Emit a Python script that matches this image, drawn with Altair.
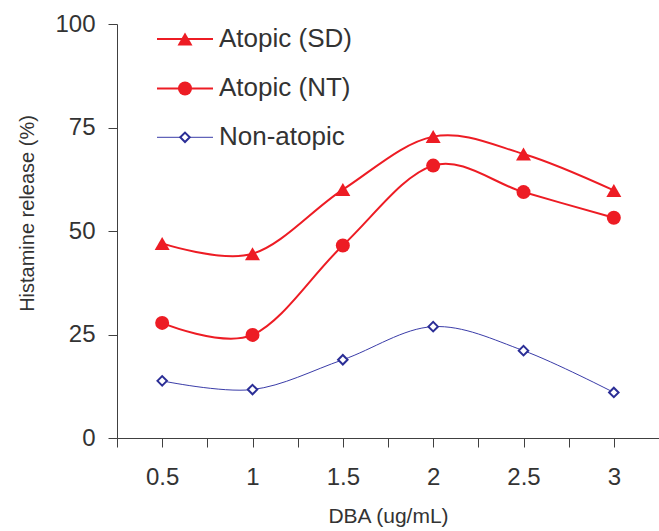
import altair as alt
import pandas as pd

doses = [0.5, 1, 1.5, 2, 2.5, 3]
atopic_sd = [47.0, 44.5, 60.0, 72.8, 68.6, 59.8]
atopic_nt = [27.8, 24.9, 46.5, 65.8, 59.4, 53.2]
non_atopic = [13.8, 11.7, 18.9, 26.9, 21.1, 11.0]
series_names = ["Atopic (SD)", "Atopic (NT)", "Non-atopic"]
y_ticks = [0, 25, 50, 75, 100]
x_ticks = [0.25, 0.5, 0.75, 1.0, 1.25, 1.5, 1.75, 2.0, 2.25, 2.5, 2.75, 3.0]

RED = "#ED1C24"
NAVY = "#2B2E96"
BLUE_LINE = "#3A3CA8"
FONT = "Liberation Sans"

W, H = 542, 414

x_enc = alt.X(
    "dose:Q",
    scale=alt.Scale(domain=[0.25, 3.25], nice=False, zero=False),
    axis=alt.Axis(
        values=x_ticks,
        format="~g",
        labelExpr="(datum.value * 2) % 1 == 0 && datum.value > 0.3 ? datum.label : ''",
        title="DBA (ug/mL)",
        labelBaseline="alphabetic",
        labelPadding=37.7,
        titleX=271,
        titleY=84,
        titleFontSize=21,
        titleBaseline="alphabetic",
        titleAlign="center",
        labelFlush=False,
        labelOverlap=False,
    ),
)
y_enc = alt.Y(
    "value:Q",
    scale=alt.Scale(domain=[0, 100], nice=False),
    axis=alt.Axis(
        values=y_ticks,
        title="Histamine release (%)",
        labelPadding=13,
        titleX=-90,
        titleY=189,
        titleAngle=270,
        titleAlign="center",
        titleBaseline="middle",
    ),
)

styles = [
    dict(values=atopic_sd, line=RED, lw=2, shape="triangle-up", size=225, fill=RED, stroke=RED, sw=0, leg_y=15, text_y=22.7),
    dict(values=atopic_nt, line=RED, lw=2, shape="circle", size=196, fill=RED, stroke=RED, sw=0, leg_y=64.5, text_y=72),
    dict(values=non_atopic, line=BLUE_LINE, lw=1, shape="diamond", size=90, fill="white", stroke=NAVY, sw=2, leg_y=113.3, text_y=120.5),
]

layers = []
for name, st in zip(series_names, styles):
    df = pd.DataFrame({"dose": doses, "value": st["values"], "series": name})
    base = alt.Chart(df)
    layers.append(
        base.mark_line(interpolate="cardinal", color=st["line"], strokeWidth=st["lw"]).encode(x=x_enc, y=y_enc)
    )
    layers.append(
        base.mark_point(shape=st["shape"], size=st["size"], filled=True, fill=st["fill"],
                        stroke=st["stroke"], strokeWidth=st["sw"], opacity=1).encode(x=x_enc, y=y_enc)
    )

# legend drawn as decoration
for name, st in zip(series_names, styles):
    ldf = pd.DataFrame({"series": [name]})
    lb = alt.Chart(ldf)
    layers.append(
        lb.mark_rule(color=st["line"], strokeWidth=st["lw"]).encode(
            x=alt.value(40), x2=alt.value(96), y=alt.value(st["leg_y"]))
    )
    layers.append(
        lb.mark_point(shape=st["shape"], size=st["size"], filled=True, fill=st["fill"],
                      stroke=st["stroke"], strokeWidth=st["sw"], opacity=1).encode(
            x=alt.value(68), y=alt.value(st["leg_y"]))
    )
    layers.append(
        lb.mark_text(align="left", baseline="alphabetic", font=FONT, fontSize=26, color="#333333").encode(
            x=alt.value(102), y=alt.value(st["text_y"]), text="series:N")
    )

chart = alt.layer(*layers).properties(
    width=W,
    height=H,
    autosize=alt.AutoSizeParams(type="none"),
    padding={"left": 117, "top": 24, "right": 0, "bottom": 90},
    background="white",
).configure_view(stroke=None).configure_axis(
    grid=False,
    tickSize=9,
    domainColor="#404040",
    tickColor="#404040",
    domainWidth=1,
    tickWidth=1,
    labelColor="#333333",
    titleColor="#333333",
    labelFont=FONT,
    titleFont=FONT,
    labelFontSize=24,
    titleFontSize=20,
    titleFontWeight="normal",
)

chart.save("out.html", embed_options={"renderer": "svg", "actions": False})
